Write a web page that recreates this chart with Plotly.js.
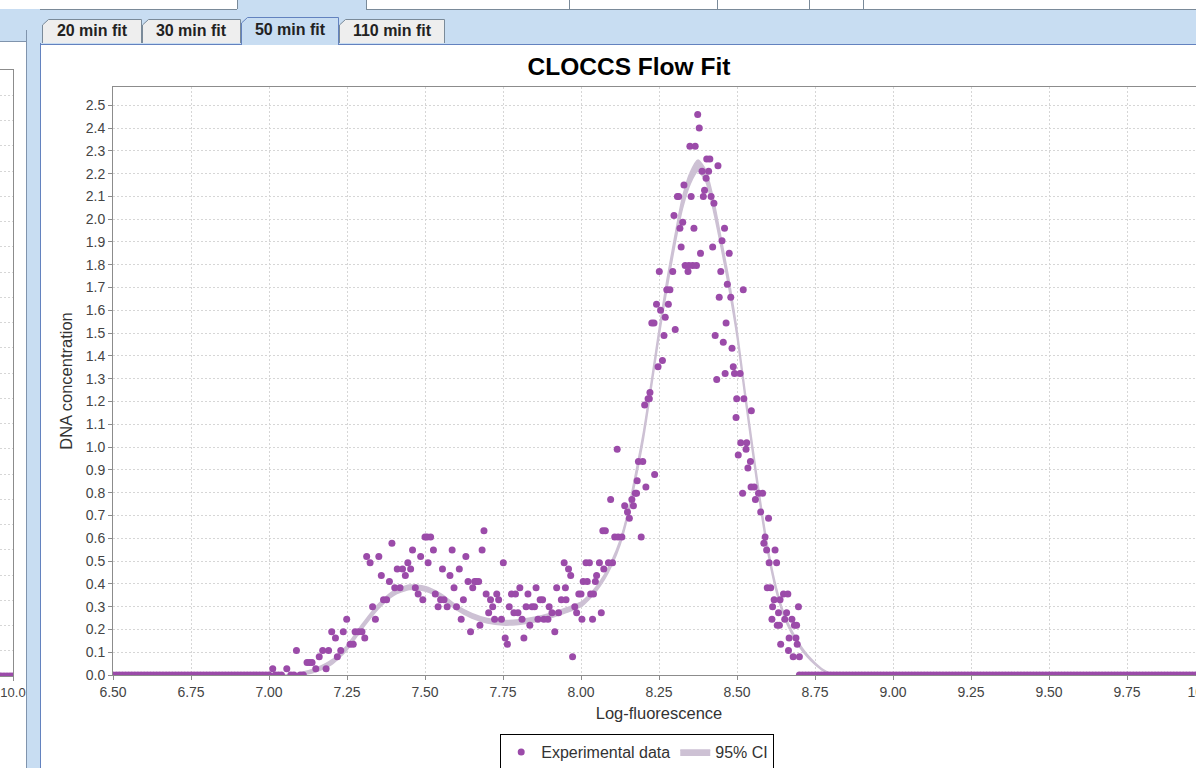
<!DOCTYPE html>
<html>
<head>
<meta charset="utf-8">
<script src="https://cdn.plot.ly/plotly-3.0.1.min.js"></script>
<style>
  html, body { margin:0; padding:0; }
  body { width:1196px; height:768px; overflow:hidden; position:relative; background:#c8ddf2; font-family:"Liberation Sans", Arial, sans-serif; }
  #chrome { position:absolute; left:0; top:0; }
  #leftBg { position:absolute; left:0; top:42px; width:26px; height:726px; background:#fff; }
  #leftClip { position:absolute; left:0; top:42px; width:27px; height:726px; overflow:hidden; }
  #mini { position:absolute; left:-1100px; top:0; width:1130px; height:726px; }
  #panel { position:absolute; left:41px; top:45px; width:1155px; height:723px; background:#fff; overflow:hidden; }
  #chart { position:absolute; left:2px; top:1px; width:1172px; height:722px; }
</style>
</head>
<body>
<svg id="chrome" width="1196" height="768" xmlns="http://www.w3.org/2000/svg">
  <rect x="0" y="0" width="1196" height="768" fill="#c8ddf2"/>
  <!-- top strip (parent tabs, cut off) -->
  <rect x="0" y="0" width="1196" height="9" fill="#ffffff"/>
  <line x1="40" y1="9.5" x2="1196" y2="9.5" stroke="#7a8a99"/>
  <rect x="237" y="0" width="129" height="10" fill="#c8ddf2"/>
  <line x1="237.5" y1="0" x2="237.5" y2="9" stroke="#7a8a99"/>
  <line x1="366.5" y1="0" x2="366.5" y2="9" stroke="#7a8a99"/>
  <line x1="569.5" y1="0" x2="569.5" y2="9" stroke="#7a8a99"/>
  <line x1="717.5" y1="0" x2="717.5" y2="9" stroke="#7a8a99"/>
  <line x1="809.5" y1="0" x2="809.5" y2="9" stroke="#7a8a99"/>
  <line x1="863.5" y1="0" x2="863.5" y2="9" stroke="#7a8a99"/>
  <!-- left panel border -->
  <line x1="26.5" y1="30" x2="26.5" y2="768" stroke="#8094ad"/>
  <line x1="0" y1="41.5" x2="26" y2="41.5" stroke="#8094ad"/>
  <!-- right tabbed pane content border -->
  <line x1="40.5" y1="43" x2="40.5" y2="768" stroke="#6382bf"/>
  <line x1="40" y1="44.5" x2="1196" y2="44.5" stroke="#6382bf"/>
  <!-- tabs -->
  <path d="M42.5,43 L42.5,25 L48.5,19.5 L141.5,19.5 L141.5,43" fill="#eeeeee" stroke="#7a8a99"/>
  <path d="M142.5,43 L142.5,25 L148.5,19.5 L240.5,19.5 L240.5,43" fill="#eeeeee" stroke="#7a8a99"/>
  <path d="M241.5,45 L241.5,23 L247.5,17.5 L338.5,17.5 L338.5,45" fill="#c8ddf2" stroke="#6382bf"/>
  <path d="M339.5,43 L339.5,25 L345.5,19.5 L444.5,19.5 L444.5,43" fill="#eeeeee" stroke="#7a8a99"/>
  <rect x="242" y="43" width="96" height="3" fill="#c8ddf2"/>
  <g font-family="Liberation Sans, Arial, sans-serif" font-size="16" font-weight="bold" fill="#222" text-anchor="middle">
    <text x="92" y="36">20 min fit</text>
    <text x="191" y="36">30 min fit</text>
    <text x="290" y="35">50 min fit</text>
    <text x="392" y="36">110 min fit</text>
  </g>
</svg>
<div id="leftBg"></div>
<div id="leftClip"><div id="mini"></div></div>
<div id="panel"><div id="chart"></div></div>
<script>
// ---------- data ----------
// zero-valued bins left of the first peak
const leftX = [6.50,6.51,6.52,6.53,6.54,6.55,6.56,6.57,6.58,6.59,
               6.60,6.61,6.62,6.63,6.64,6.65,6.66,6.67,6.68,6.69,
               6.70,6.71,6.72,6.73,6.74,6.75,6.76,6.77,6.78,6.79,
               6.80,6.81,6.82,6.83,6.84,6.85,6.86,6.87,6.88,6.89,
               6.90,6.91,6.92,6.93,6.94,6.95,6.96,6.97,6.98,6.99,
               7.00,7.02,7.03,7.04,7.07,7.08,7.10,7.11];
const leftY = [0,0,0,0,0,0,0,0,0,0,
               0,0,0,0,0,0,0,0,0,0,
               0,0,0,0,0,0,0,0,0,0,
               0,0,0,0,0,0,0,0,0,0,
               0,0,0,0,0,0,0,0,0,0,
               0,0,0,0,0,0,0,0];
// bins with signal
const midX = [7.012,7.057,7.088,7.122,7.130,7.138,7.150,7.161,7.172,7.183,
              7.191,7.201,7.213,7.219,7.230,7.238,7.249,7.260,7.270,7.276,
              7.287,7.298,7.307,7.313,7.324,7.332,7.341,7.352,7.360,7.367,
              7.377,7.386,7.394,7.403,7.411,7.420,7.428,7.437,7.445,7.454,
              7.460,7.469,7.478,7.486,7.493,7.500,7.507,7.510,7.518,7.527,
              7.533,7.542,7.550,7.556,7.561,7.571,7.580,7.587,7.593,7.601,
              7.610,7.616,7.623,7.631,7.638,7.646,7.653,7.659,7.665,7.672,
              7.676,7.683,7.689,7.696,7.704,7.710,7.717,7.723,7.730,7.736,
              7.745,7.751,7.757,7.764,7.770,7.777,7.785,7.790,7.798,7.804,
              7.811,7.817,7.824,7.830,7.836,7.843,7.851,7.856,7.862,7.869,
              7.877,7.881,7.894,7.898,7.907,7.916,7.922,7.928,7.937,7.946,
              7.950,7.952,7.960,7.967,7.973,7.980,7.986,7.993,8.000,8.003,
              8.007,8.016,8.020,8.027,8.031,8.037,8.040,8.046,8.050,8.059,
              8.065,8.070,8.073,8.078,8.088,8.095,8.101,8.108,8.116,8.119,
              8.131,8.140,8.149,8.155,8.163,8.168,8.174,8.178,8.180,8.184,
              8.193,8.198,8.204,8.208,8.215,8.219,8.221,8.227,8.234,8.236,
              8.242,8.247,8.251,8.255,8.261,8.266,8.270,8.275,8.280,8.285,
              8.294,8.298,8.302,8.309,8.313,8.317,8.321,8.326,8.330,8.334,
              8.343,8.346,8.349,8.353,8.358,8.362,8.366,8.370,8.374,8.379,
              8.383,8.388,8.392,8.396,8.401,8.403,8.409,8.413,8.417,8.422,
              8.426,8.430,8.435,8.439,8.443,8.448,8.452,8.456,8.460,8.462,
              8.465,8.469,8.475,8.480,8.484,8.488,8.492,8.497,8.499,8.504,
              8.510,8.512,8.518,8.520,8.522,8.529,8.531,8.535,8.543,8.545,
              8.546,8.555,8.559,8.569,8.576,8.582,8.586,8.590,8.595,8.597,
              8.601,8.603,8.608,8.612,8.614,8.619,8.622,8.627,8.629,8.633,
              8.636,8.638,8.640,8.649,8.653,8.659,8.663,8.665,8.667,8.676,
              8.680,8.684,8.689,8.691,8.693,8.697,8.700];
const midY = [0.027,0.027,0.107,0.055,0.055,0.055,0.027,0.080,0.107,0.027,
              0.107,0.190,0.162,0.080,0.107,0.190,0.245,0.135,0.135,0.190,
              0.190,0.190,0.162,0.520,0.492,0.300,0.245,0.520,0.437,0.330,
              0.330,0.410,0.578,0.383,0.465,0.383,0.465,0.437,0.492,0.465,
              0.548,0.383,0.355,0.520,0.330,0.605,0.605,0.492,0.605,0.548,
              0.355,0.300,0.330,0.465,0.330,0.300,0.437,0.548,0.383,0.300,
              0.465,0.245,0.330,0.520,0.410,0.190,0.383,0.410,0.410,0.410,
              0.218,0.548,0.633,0.355,0.273,0.330,0.300,0.245,0.355,0.330,
              0.245,0.492,0.162,0.135,0.300,0.355,0.273,0.355,0.273,0.383,
              0.245,0.162,0.300,0.355,0.218,0.300,0.300,0.383,0.245,0.330,
              0.330,0.245,0.245,0.300,0.273,0.190,0.383,0.273,0.330,0.492,
              0.383,0.330,0.465,0.437,0.080,0.300,0.273,0.355,0.355,0.245,
              0.410,0.492,0.410,0.492,0.355,0.245,0.355,0.410,0.437,0.492,
              0.273,0.633,0.465,0.633,0.492,0.770,0.492,0.605,0.990,0.605,
              0.605,0.743,0.715,0.688,0.770,0.743,0.798,0.798,0.852,0.937,
              0.605,0.937,1.185,0.825,1.212,1.212,1.240,1.545,1.545,0.880,
              1.627,1.352,1.770,1.600,1.380,1.490,1.570,1.690,1.627,1.690,
              1.770,2.016,1.516,2.100,2.100,1.960,1.878,1.987,2.150,1.797,
              1.770,1.797,2.320,2.100,1.797,1.960,2.320,1.797,2.459,2.400,
              1.850,2.210,2.100,2.127,2.180,2.264,2.210,2.264,2.100,1.878,
              2.070,1.490,1.297,2.235,1.657,1.770,1.905,1.460,1.960,1.323,
              1.545,1.714,1.850,1.657,1.434,1.352,1.323,1.130,1.212,0.965,
              1.323,1.019,0.798,1.690,1.212,0.990,1.019,0.908,0.937,0.825,
              1.159,0.825,0.770,0.798,0.715,0.798,0.578,0.605,0.548,0.383,
              0.688,0.492,0.383,0.245,0.300,0.330,0.548,0.492,0.218,0.273,
              0.218,0.330,0.135,0.355,0.245,0.273,0.355,0.107,0.162,0.245,
              0.080,0.218,0.162,0.218,0.135,0.300,0.080];
// zero-valued bins right of the G2 peak
const rightX = [8.70,8.71,8.72,8.73,8.74,8.75,8.76,8.77,8.78,8.79,
                8.80,8.81,8.82,8.83,8.84,8.85,8.86,8.87,8.88,8.89,
                8.90,8.91,8.92,8.93,8.94,8.95,8.96,8.97,8.98,8.99,
                9.00,9.01,9.02,9.03,9.04,9.05,9.06,9.07,9.08,9.09,
                9.10,9.11,9.12,9.13,9.14,9.15,9.16,9.17,9.18,9.19,
                9.20,9.21,9.22,9.23,9.24,9.25,9.26,9.27,9.28,9.29,
                9.30,9.31,9.32,9.33,9.34,9.35,9.36,9.37,9.38,9.39,
                9.40,9.41,9.42,9.43,9.44,9.45,9.46,9.47,9.48,9.49,
                9.50,9.51,9.52,9.53,9.54,9.55,9.56,9.57,9.58,9.59,
                9.60,9.61,9.62,9.63,9.64,9.65,9.66,9.67,9.68,9.69,
                9.70,9.71,9.72,9.73,9.74,9.75,9.76,9.77,9.78,9.79,
                9.80,9.81,9.82,9.83,9.84,9.85,9.86,9.87,9.88,9.89,
                9.90,9.91,9.92,9.93,9.94,9.95,9.96,9.97,9.98,9.99,
                10.00];
const rightY = [0,0,0,0,0,0,0,0,0,0,
                0,0,0,0,0,0,0,0,0,0,
                0,0,0,0,0,0,0,0,0,0,
                0,0,0,0,0,0,0,0,0,0,
                0,0,0,0,0,0,0,0,0,0,
                0,0,0,0,0,0,0,0,0,0,
                0,0,0,0,0,0,0,0,0,0,
                0,0,0,0,0,0,0,0,0,0,
                0,0,0,0,0,0,0,0,0,0,
                0,0,0,0,0,0,0,0,0,0,
                0,0,0,0,0,0,0,0,0,0,
                0,0,0,0,0,0,0,0,0,0,
                0,0,0,0,0,0,0,0,0,0,
                0];
// 95% confidence band of the fitted model
const ciX    = [6.50,7.00,7.05,7.10,7.15,7.20,7.25,7.30,7.35,7.40,
                7.45,7.50,7.55,7.60,7.65,7.70,7.75,7.80,7.85,7.90,
                7.95,8.00,8.025,8.05,8.075,8.10,8.125,8.15,8.175,8.20,
                8.225,8.25,8.275,8.30,8.325,8.35,8.375,8.40,8.425,8.45,
                8.475,8.50,8.525,8.55,8.575,8.60,8.625,8.65,8.675,8.70,
                8.725,8.75,8.775,8.80,8.85,9.00,10.00];
const ciLow  = [0,0,0,0,0.014,0.045,0.11,0.205,0.29,0.35,
                0.375,0.368,0.337,0.287,0.25,0.228,0.219,0.222,0.233,0.25,
                0.273,0.30,0.33,0.37,0.42,0.485,0.57,0.695,0.855,1.035,
                1.255,1.485,1.69,1.88,2.045,2.155,2.21,2.165,2.035,1.87,
                1.69,1.485,1.225,0.975,0.735,0.528,0.37,0.257,0.183,0.124,
                0.08,0.046,0.019,0.004,0,0,0];
const ciHigh = [0,0,0,0.01,0.03,0.065,0.13,0.225,0.31,0.37,
                0.395,0.388,0.357,0.307,0.27,0.248,0.239,0.242,0.253,0.27,
                0.293,0.32,0.35,0.39,0.44,0.505,0.59,0.715,0.885,1.065,
                1.285,1.515,1.73,1.92,2.095,2.205,2.26,2.215,2.085,1.91,
                1.73,1.515,1.255,1.005,0.765,0.552,0.39,0.273,0.197,0.136,
                0.09,0.054,0.025,0.008,0,0,0];
// neighbouring (cut-off) chart on the left edge
const miniX = [9.95,9.96,9.97,9.98,9.99,10.00];
const miniY = [0,0,0,0,0,0];

const PURPLE = '#9b4ba9';
const CI_COLOR = '#cdc1d4';
const FONT = 'Liberation Sans, Arial, sans-serif';

const expX = leftX.concat(midX, rightX);
const expY = leftY.concat(midY, rightY);

const traces = [
  {x: ciX, y: ciLow, type: 'scatter', mode: 'lines', line: {color: CI_COLOR, width: 1.5, shape: 'spline', smoothing: 0.6},
   hoverinfo: 'skip', showlegend: false},
  {x: ciX, y: ciHigh, type: 'scatter', mode: 'lines', fill: 'tonexty', fillcolor: CI_COLOR,
   line: {color: CI_COLOR, width: 1.5, shape: 'spline', smoothing: 0.6}, name: '95% CI', legendrank: 2},
  {x: expX, y: expY, type: 'scatter', mode: 'markers', marker: {color: PURPLE, size: 7},
   name: 'Experimental data', legendrank: 1}
];

const H = 722;
const axisCommon = {
  ticks: 'outside', ticklen: 4, tickcolor: '#8c8c8c', showline: true, linecolor: '#8c8c8c', linewidth: 1,
  mirror: true, showgrid: true, gridcolor: '#d6d6d6', griddash: '2px,2px', zeroline: false, fixedrange: true,
  tickfont: {family: FONT, size: 14, color: '#444'}, ticklabeloverflow: 'allow'
};
const layout = {
  width: 1172, height: H,
  margin: {l: 70, r: 10, t: 41, b: 93},
  paper_bgcolor: '#ffffff', plot_bgcolor: '#ffffff',
  font: {family: FONT, size: 14, color: '#444'},
  title: {text: 'CLOCCS Flow Fit', font: {family: FONT, size: 24.5, color: '#000', weight: 700},
          x: 0.5, xref: 'container', xanchor: 'center', y: 1 - 20 / H, yref: 'container', yanchor: 'middle'},
  xaxis: Object.assign({}, axisCommon, {range: [6.5, 10], tick0: 6.5, dtick: 0.25, tickformat: '.2f',
          title: {text: 'Log-fluorescence', font: {family: FONT, size: 16.5, color: '#333'}, standoff: 8}}),
  yaxis: Object.assign({}, axisCommon, {range: [0, 2.58], tick0: 0, dtick: 0.1, tickformat: '.1f',
          title: {text: 'DNA concentration', font: {family: FONT, size: 16.5, color: '#333'}, standoff: 8}}),
  showlegend: true,
  legend: {orientation: 'h', x: 0.507, xref: 'container', xanchor: 'center', y: 1 - 688 / H, yref: 'container', yanchor: 'top',
           bordercolor: '#000', borderwidth: 1, bgcolor: '#fff', font: {family: FONT, size: 16, color: '#333'},
           itemwidth: 30, traceorder: 'normal'}
};
Plotly.newPlot('chart', traces, layout, {displayModeBar: false, staticPlot: true});

// cut-off neighbouring chart (only its right-hand edge is visible)
const miniLayout = {
  width: 1130, height: 726,
  margin: {l: 60, r: 17, t: 28, b: 92},
  paper_bgcolor: 'rgba(0,0,0,0)', plot_bgcolor: '#ffffff', showlegend: false,
  xaxis: Object.assign({}, axisCommon, {range: [6.5, 10], tickvals: [10], ticktext: ['10.0'], showgrid: false,
          tickfont: {family: FONT, size: 13, color: '#444'}}),
  yaxis: Object.assign({}, axisCommon, {range: [0, 2.4], dtick: 0.1, showticklabels: false})
};
Plotly.newPlot('mini', [{x: miniX, y: miniY, type: 'scatter', mode: 'markers', marker: {color: PURPLE, size: 7}}],
  miniLayout, {displayModeBar: false, staticPlot: true});
</script>
</body>
</html>
